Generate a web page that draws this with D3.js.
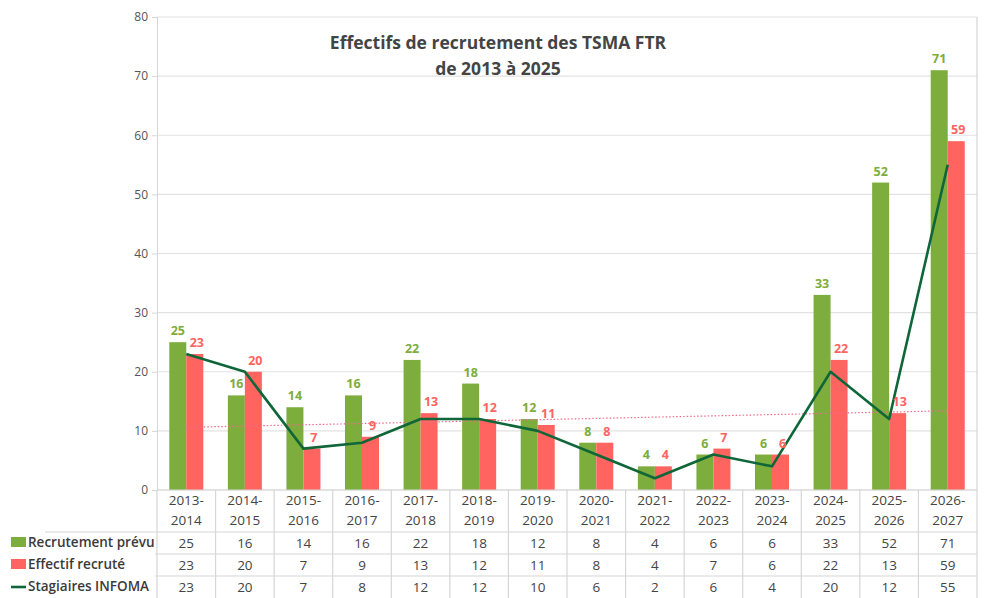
<!DOCTYPE html>
<html>
<head>
<meta charset="utf-8">
<script src="https://cdn.jsdelivr.net/npm/d3@7"></script>
<style>
  body { margin: 0; background: #fff; }
  text { font-family: "Open Sans", sans-serif; }
</style>
</head>
<body>
<div id="chart"></div>
<script>
// data
var categories = ["2013-2014", "2014-2015", "2015-2016", "2016-2017", "2017-2018", "2018-2019", "2019-2020",
    "2020-2021", "2021-2022", "2022-2023", "2023-2024", "2024-2025", "2025-2026", "2026-2027"];
var recrutementPrevu = [25, 16, 14, 16, 22, 18, 12, 8, 4, 6, 6, 33, 52, 71];
var effectifRecrute = [23, 20, 7, 9, 13, 12, 11, 8, 4, 7, 6, 22, 13, 59];
var stagiairesInfoma = [23, 20, 7, 8, 12, 12, 10, 6, 2, 6, 4, 20, 12, 55];
var trendEnds = [10.6, 13.4]; // dotted pink trend, first and last category
var yTicks = [0, 10, 20, 30, 40, 50, 60, 70, 80];
var seriesNames = ["Recrutement prévu", "Effectif recruté", "Stagiaires INFOMA"];

var svgWidth = 989, svgHeight = 598;
var margin = { top: 17, right: 12, bottom: 108, left: 157 };
var chartWidth = svgWidth - margin.left - margin.right;
var chartHeight = svgHeight - margin.top - margin.bottom;

var green = "#7dad3d", red = "#ff6461", lineCol = "#0f6639", txt = "#444";

var svg = d3.select("#chart").append("svg")
    .attr("width", svgWidth)
    .attr("height", svgHeight);

var chartGroup = svg.append("g")
    .attr("transform", `translate(${margin.left}, ${margin.top})`);

var x = d3.scaleBand().domain(categories).range([0, chartWidth]);
var y = d3.scaleLinear().domain([0, 80]).range([chartHeight, 0]);
var barW = 17;

// gridlines
chartGroup.selectAll(".grid")
    .data(yTicks)
    .enter().append("line")
    .attr("x1", 0).attr("x2", chartWidth)
    .attr("y1", d => y(d)).attr("y2", d => y(d))
    .attr("stroke", "#e2e2e2").attr("stroke-width", 1.2);

// left axis
var leftAxis = d3.axisLeft(y).tickValues(yTicks).tickSize(5).tickPadding(4);
var gy = chartGroup.append("g").call(leftAxis);
gy.select(".domain").attr("stroke", "#d6d6d6");
gy.selectAll(".tick line").attr("stroke", "#d6d6d6");
gy.selectAll("text").attr("fill", "#555").style("font-size", "12px");

// right border
chartGroup.append("line")
    .attr("x1", chartWidth).attr("x2", chartWidth)
    .attr("y1", 0).attr("y2", svgHeight - margin.top)
    .attr("stroke", "#d6d6d6").attr("stroke-width", 1.2);

// bars
chartGroup.selectAll(".barG")
    .data(recrutementPrevu)
    .enter().append("rect")
    .attr("x", (d, i) => x(categories[i]) + x.bandwidth() / 2 - barW)
    .attr("y", d => y(d))
    .attr("width", barW)
    .attr("height", d => chartHeight - y(d))
    .attr("fill", green);

chartGroup.selectAll(".barR")
    .data(effectifRecrute)
    .enter().append("rect")
    .attr("x", (d, i) => x(categories[i]) + x.bandwidth() / 2)
    .attr("y", d => y(d))
    .attr("width", barW)
    .attr("height", d => chartHeight - y(d))
    .attr("fill", red);

// trend
var cx = i => x(categories[i]) + x.bandwidth() / 2;
chartGroup.append("line")
    .attr("x1", cx(0)).attr("x2", cx(categories.length - 1))
    .attr("y1", y(trendEnds[0])).attr("y2", y(trendEnds[1]))
    .attr("stroke", "#f06b8a").attr("stroke-width", 1.2)
    .attr("stroke-dasharray", "1.5,2");

// line
var line = d3.line().x((d, i) => cx(i)).y(d => y(d));
chartGroup.append("path")
    .datum(stagiairesInfoma)
    .attr("d", line)
    .attr("fill", "none")
    .attr("stroke", lineCol)
    .attr("stroke-width", 2.6)
    .attr("stroke-linejoin", "round");

// bar labels
chartGroup.selectAll(".lblG")
    .data(recrutementPrevu)
    .enter().append("text")
    .attr("x", (d, i) => cx(i) - barW / 2)
    .attr("y", d => y(d) - 7)
    .attr("text-anchor", "middle")
    .attr("fill", green)
    .style("font-size", "12.5px").style("font-weight", "bold")
    .text(d => d);

chartGroup.selectAll(".lblR")
    .data(effectifRecrute)
    .enter().append("text")
    .attr("x", (d, i) => cx(i) + barW / 2 + 2)
    .attr("y", d => y(d) - 7)
    .attr("text-anchor", "middle")
    .attr("fill", red)
    .style("font-size", "12.5px").style("font-weight", "bold")
    .text(d => d);

// x axis + table
chartGroup.append("line")
    .attr("x1", 0).attr("x2", chartWidth)
    .attr("y1", chartHeight).attr("y2", chartHeight)
    .attr("stroke", "#d6d6d6").attr("stroke-width", 1.2);

chartGroup.selectAll(".vdiv")
    .data(d3.range(categories.length))
    .enter().append("line")
    .attr("x1", i => x(categories[i])).attr("x2", i => x(categories[i]))
    .attr("y1", chartHeight).attr("y2", svgHeight - margin.top)
    .attr("stroke", "#d6d6d6").attr("stroke-width", 1.2);

var catLabels = chartGroup.selectAll(".cat")
    .data(categories)
    .enter().append("text")
    .attr("text-anchor", "middle")
    .attr("fill", txt)
    .style("font-size", "13.5px");
catLabels.append("tspan")
    .attr("x", (d, i) => cx(i)).attr("y", chartHeight + 15)
    .text(d => d.split("-")[0] + "-");
catLabels.append("tspan")
    .attr("x", (d, i) => cx(i)).attr("y", chartHeight + 35)
    .text(d => d.split("-")[1]);

var rowY = [chartHeight + 42, chartHeight + 64, chartHeight + 86];
[0, 1, 2].forEach(function(r) {
    chartGroup.append("line")
        .attr("x1", r == 0 ? -112 : -2).attr("x2", chartWidth)
        .attr("y1", rowY[r]).attr("y2", rowY[r])
        .attr("stroke", "#d6d6d6").attr("stroke-width", 1.2);
});

var rows = [recrutementPrevu, effectifRecrute, stagiairesInfoma];
rows.forEach(function(vals, r) {
    chartGroup.selectAll(".row" + r)
        .data(vals)
        .enter().append("text")
        .attr("x", (d, i) => cx(i))
        .attr("y", rowY[r] + 16)
        .attr("text-anchor", "middle")
        .attr("fill", txt)
        .style("font-size", "13.5px")
        .text(d => d);
});

// row legend
var legend = svg.append("g");
legend.append("rect").attr("x", 11).attr("y", 537).attr("width", 15).attr("height", 10).attr("fill", green);
legend.append("rect").attr("x", 11).attr("y", 559).attr("width", 15).attr("height", 10).attr("fill", red);
legend.append("line").attr("x1", 11).attr("x2", 26).attr("y1", 587).attr("y2", 587)
    .attr("stroke", lineCol).attr("stroke-width", 2.6);
legend.selectAll(".lg")
    .data(seriesNames)
    .enter().append("text")
    .attr("x", 28)
    .attr("y", (d, i) => 547 + i * 22)
    .attr("fill", "#3a3a3a")
    .style("font-size", "13.5px").style("font-weight", "600")
    .text(d => d);

// title
svg.append("text")
    .attr("x", 498).attr("y", 49)
    .attr("text-anchor", "middle")
    .attr("fill", txt)
    .style("font-size", "17.5px").style("font-weight", "bold")
    .text("Effectifs de recrutement des TSMA FTR");
svg.append("text")
    .attr("x", 498).attr("y", 75)
    .attr("text-anchor", "middle")
    .attr("fill", txt)
    .style("font-size", "17.5px").style("font-weight", "bold")
    .text("de 2013 à 2025");
</script>
</body>
</html>
